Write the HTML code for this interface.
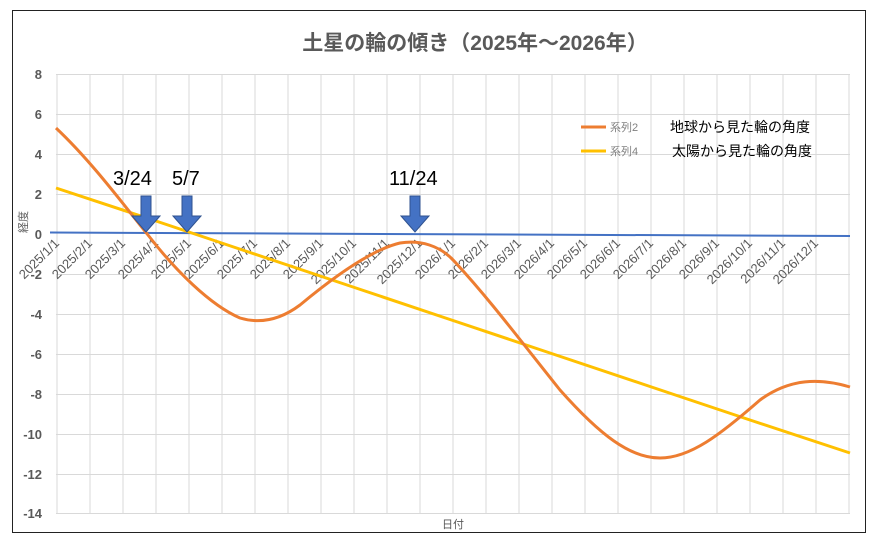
<!DOCTYPE html><html><head><meta charset="utf-8"><style>body{margin:0;background:#fff}svg{display:block}text{font-family:"Liberation Sans","Noto Sans CJK JP",sans-serif}</style></head><body>
<svg width="878" height="544" viewBox="0 0 878 544">
<rect x="0" y="0" width="878" height="544" fill="#fff"/>
<rect x="12.5" y="10.5" width="853" height="522" fill="none" stroke="#222" stroke-width="1"/>
<text x="475" y="50" text-anchor="middle" font-size="21" font-weight="bold" fill="#595959">土星の輪の傾き（2025年～2026年）</text>
<g stroke="#d9d9d9" stroke-width="1">
<path d="M56 74.5H850M56 114.5H850M56 154.5H850M56 194.5H850M56 274.5H850M56 314.5H850M56 354.5H850M56 394.5H850M56 434.5H850M56 474.5H850M56 513.5H850"/>
</g>
<g stroke="#d9d9d9">
<line x1="57" y1="74" x2="57" y2="513"/><line x1="90" y1="74" x2="90" y2="513"/><line x1="123" y1="74" x2="123" y2="513"/><line x1="156" y1="74" x2="156" y2="513"/><line x1="189" y1="74" x2="189" y2="513"/><line x1="222" y1="74" x2="222" y2="513"/><line x1="255" y1="74" x2="255" y2="513"/><line x1="288" y1="74" x2="288" y2="513"/><line x1="321" y1="74" x2="321" y2="513"/><line x1="354" y1="74" x2="354" y2="513"/><line x1="387" y1="74" x2="387" y2="513"/><line x1="420" y1="74" x2="420" y2="513"/><line x1="453" y1="74" x2="453" y2="513"/><line x1="486" y1="74" x2="486" y2="513"/><line x1="519" y1="74" x2="519" y2="513"/><line x1="552" y1="74" x2="552" y2="513"/><line x1="585" y1="74" x2="585" y2="513"/><line x1="618" y1="74" x2="618" y2="513"/><line x1="651" y1="74" x2="651" y2="513"/><line x1="684" y1="74" x2="684" y2="513"/><line x1="717" y1="74" x2="717" y2="513"/><line x1="750" y1="74" x2="750" y2="513"/><line x1="783" y1="74" x2="783" y2="513"/><line x1="816" y1="74" x2="816" y2="513"/><line x1="849" y1="74" x2="849" y2="513"/>
</g>
<g font-size="13" font-weight="bold" fill="#595959" text-anchor="end">
<text x="42" y="79">8</text><text x="42" y="119">6</text><text x="42" y="159">4</text><text x="42" y="199">2</text><text x="42" y="239">0</text><text x="42" y="279">-2</text><text x="42" y="319">-4</text><text x="42" y="359">-6</text><text x="42" y="399">-8</text><text x="42" y="439">-10</text><text x="42" y="479">-12</text><text x="42" y="518">-14</text>
</g>
<text transform="translate(27,222) rotate(-90)" font-size="11" fill="#595959" text-anchor="middle">経度</text>
<text x="453" y="528" font-size="11" fill="#595959" text-anchor="middle">日付</text>
<g font-size="13" fill="#595959" text-anchor="end">
<text transform="translate(60,244) rotate(-45)">2025/1/1</text><text transform="translate(93,244) rotate(-45)">2025/2/1</text><text transform="translate(126,244) rotate(-45)">2025/3/1</text><text transform="translate(159,244) rotate(-45)">2025/4/1</text><text transform="translate(192,244) rotate(-45)">2025/5/1</text><text transform="translate(225,244) rotate(-45)">2025/6/1</text><text transform="translate(258,244) rotate(-45)">2025/7/1</text><text transform="translate(291,244) rotate(-45)">2025/8/1</text><text transform="translate(324,244) rotate(-45)">2025/9/1</text><text transform="translate(357,244) rotate(-45)">2025/10/1</text><text transform="translate(390,244) rotate(-45)">2025/11/1</text><text transform="translate(423,244) rotate(-45)">2025/12/1</text><text transform="translate(456,244) rotate(-45)">2026/1/1</text><text transform="translate(489,244) rotate(-45)">2026/2/1</text><text transform="translate(522,244) rotate(-45)">2026/3/1</text><text transform="translate(555,244) rotate(-45)">2026/4/1</text><text transform="translate(588,244) rotate(-45)">2026/5/1</text><text transform="translate(621,244) rotate(-45)">2026/6/1</text><text transform="translate(654,244) rotate(-45)">2026/7/1</text><text transform="translate(687,244) rotate(-45)">2026/8/1</text><text transform="translate(720,244) rotate(-45)">2026/9/1</text><text transform="translate(753,244) rotate(-45)">2026/10/1</text><text transform="translate(786,244) rotate(-45)">2026/11/1</text><text transform="translate(819,244) rotate(-45)">2026/12/1</text>
</g>
<polyline fill="none" stroke="#4472c4" stroke-width="2" points="50,232.5 850,236"/>
<polyline fill="none" stroke="#ffc000" stroke-width="3" points="56,188 150,219 250,252.5 350,286 450,319.5 550,353 650,386.5 750,420 850,453"/>
<path fill="none" stroke="#ed7d31" stroke-width="3" d="M56,128 C90,160 120,200 148,235 C175,270 210,305 240,318 C260,324 280,320 300,305 C330,280 370,250 400,243 C420,240 440,245 455,262 C490,300 520,340 560,390 C600,435 630,458 660,458 C690,458 720,435 760,400 C790,378 820,378 850,387"/>
<g fill="#4472c4" stroke="#2f528f" stroke-width="1">
<path d="M141,196h10v20h9l-14,16l-14,-16h9z"/>
<path d="M182,196h10v20h9l-14,16l-14,-16h9z"/>
<path d="M410,196h10v20h9l-14,16l-14,-16h9z"/>
</g>
<g font-size="20" fill="#000"><text x="113" y="185">3/24</text><text x="172" y="185">5/7</text><text x="389" y="185">11/24</text></g>
<line x1="581" y1="127" x2="606" y2="127" stroke="#ed7d31" stroke-width="3"/>
<line x1="581" y1="151" x2="606" y2="151" stroke="#ffc000" stroke-width="3"/>
<g font-size="11" fill="#808080"><text x="610" y="131">系列2</text><text x="610" y="155">系列4</text></g>
<g font-size="14" fill="#000"><text x="670" y="132">地球から見た輪の角度</text><text x="672" y="156">太陽から見た輪の角度</text></g>
</svg></body></html>
